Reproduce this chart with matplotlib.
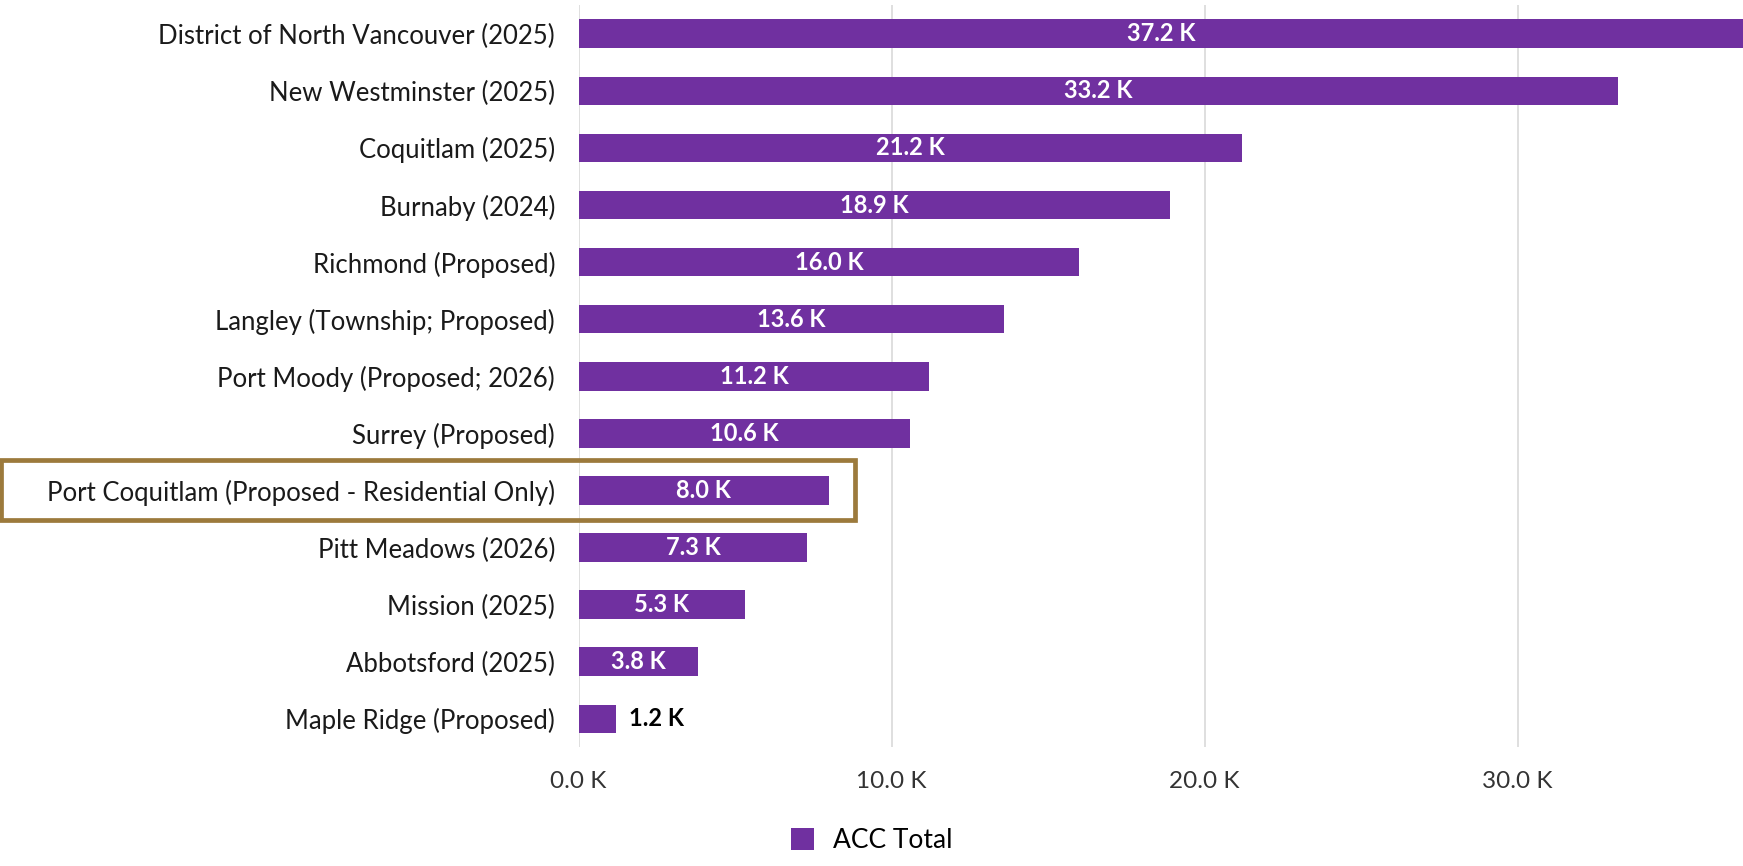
import matplotlib.pyplot as plt
from matplotlib.patches import Rectangle
from matplotlib.ticker import FuncFormatter

categories = [
    "District of North Vancouver (2025)",
    "New Westminster (2025)",
    "Coquitlam (2025)",
    "Burnaby (2024)",
    "Richmond (Proposed)",
    "Langley (Township; Proposed)",
    "Port Moody (Proposed; 2026)",
    "Surrey (Proposed)",
    "Port Coquitlam (Proposed - Residential Only)",
    "Pitt Meadows (2026)",
    "Mission (2025)",
    "Abbotsford (2025)",
    "Maple Ridge (Proposed)",
]
acc_total = [37.2, 33.2, 21.2, 18.9, 16.0, 13.6, 11.2, 10.6, 8.0, 7.3, 5.3, 3.8, 1.2]
x_ticks = [0, 10, 20, 30]
highlight = "Port Coquitlam (Proposed - Residential Only)"

purple = "#7030A0"
plt.rcParams["font.family"] = ["Lato", "DejaVu Sans"]

fig = plt.figure(figsize=(17.43, 8.66), dpi=100)
ax = fig.add_axes([0.332, 0.137, 0.668, 0.857])

ypos = list(range(len(categories)))
bars = ax.barh(ypos, acc_total, height=0.5, color=purple, label="ACC Total", zorder=3)

ax.set_ylim(len(categories) - 0.5, -0.5)
ax.set_xlim(0, 37.2)
ax.set_yticks(ypos)
ax.set_yticklabels(categories, fontsize=18.5, color="#1a1a1a")
ax.set_xticks(x_ticks)
ax.xaxis.set_major_formatter(FuncFormatter(lambda v, p: f"{v:.1f} K"))
ax.tick_params(axis="x", labelsize=17.5, colors="#333333", length=0, pad=17)
ax.tick_params(axis="y", length=0, pad=17)
ax.grid(axis="x", color="#D9D9D9", linewidth=1.2, zorder=0)
ax.set_axisbelow(True)
for s in ax.spines.values():
    s.set_visible(False)

xmax = ax.get_xlim()[1]
for y, v in zip(ypos, acc_total):
    txt = f"{v:.1f} K"
    if v < 3:
        ax.text(v + 0.4, y, txt, ha="left", va="center", fontsize=17,
                fontweight="bold", color="black")
    else:
        ax.text(min(v, xmax) / 2, y, txt, ha="center", va="center", fontsize=17,
                fontweight="bold", color="white")

# highlight box around the Port Coquitlam row
hi = categories.index(highlight)
ax.add_patch(Rectangle((-18.47, hi - 0.54), 18.47 + 8.84, 1.06, fill=False,
                       edgecolor="#9C7A3C", linewidth=3.4, clip_on=False, zorder=5))

fig.legend(handles=[bars], labels=["ACC Total"], loc="center",
           bbox_to_anchor=(0.5, 0.029), frameon=False, fontsize=19,
           handlelength=0.9, handleheight=0.9, handletextpad=0.7)

fig.savefig("out.png", dpi=100)
